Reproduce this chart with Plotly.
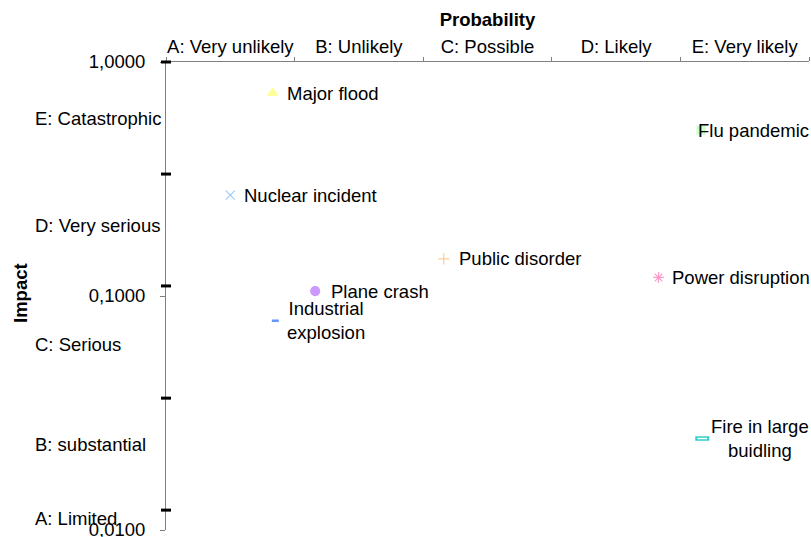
import math
import plotly.graph_objects as go

# ---- data ----
risks = ["Major flood", "Flu pandemic", "Nuclear incident", "Public disorder",
         "Power disruption", "Plane crash", "Industrial explosion", "Fire in large buidling"]
risk_labels = ["Major flood", "Flu pandemic", "Nuclear incident", "Public disorder",
               "Power disruption", "Plane crash", "Industrial<br>explosion", "Fire in large<br>buidling"]
probability = [0.83, 4.16, 0.50, 2.16, 3.83, 1.16, 0.85, 4.17]
impact = [0.737, 0.512, 0.270, 0.144, 0.120, 0.105, 0.0784, 0.0246]

prob_categories = ["A: Very unlikely", "B: Unlikely", "C: Possible", "D: Likely", "E: Very likely"]
prob_centers = [0.5, 1.5, 2.5, 3.5, 4.5]
prob_bounds = [0, 1, 2, 3, 4, 5]

impact_categories = ["E: Catastrophic", "D: Very serious", "C: Serious", "B: substantial", "A: Limited"]
impact_label_pos = [0.576, 0.201, 0.0618, 0.0233, 0.01125]
impact_bounds = [1.0, 0.332, 0.1104, 0.0366, 0.01216]

y_tickvals = [0.01, 0.1, 1.0]
y_range_log = [-2, 0]

# ---- styles ----
FONT = "Liberation Sans, Arial, sans-serif"
FS = 18.5
styles = {
    "Major flood": dict(symbol="triangle-up", color="#ffff99", size=9),
    "Flu pandemic": dict(symbol="square", color="#ccffcc", size=8),
    "Nuclear incident": dict(symbol="x-thin-open", color="#99ccff", size=9),
    "Public disorder": dict(symbol="cross-thin-open", color="#ffcc99", size=8),
    "Power disruption": dict(symbol="asterisk-open", color="#ff99cc", size=9),
    "Plane crash": dict(symbol="circle", color="#cc99ff", size=9),
    "Industrial explosion": dict(symbol="line-ew-open", color="#6699ff", size=5),
    "Fire in large buidling": dict(symbol="line-ew-open", color="#33cccc", size=10),
}
label_shift = {"Major flood": 12, "Flu pandemic": -5, "Nuclear incident": 12, "Public disorder": 13,
               "Power disruption": 11, "Plane crash": 14, "Industrial explosion": 10,
               "Fire in large buidling": 7}

fig = go.Figure()
for name, px_, im in zip(risks, probability, impact):
    st = styles[name]
    lw = 1.2
    if name == "Industrial explosion":
        lw = 2.5
    if name == "Fire in large buidling":
        lw = 4.5
    fig.add_trace(go.Scatter(
        x=[px_], y=[im], mode="markers", name=name, showlegend=False,
        marker=dict(symbol=st["symbol"], size=st["size"], color=st["color"],
                    line=dict(color=st["color"], width=lw)),
        cliponaxis=False, xaxis="x", yaxis="y"))
    if name == "Fire in large buidling":
        fig.add_trace(go.Scatter(
            x=[px_], y=[im], mode="markers", showlegend=False,
            marker=dict(symbol="line-ew-open", size=7, color="white",
                        line=dict(color="white", width=1.5)),
            cliponaxis=False, xaxis="x", yaxis="y"))

annotations = []
for name, lab, px_, im in zip(risks, risk_labels, probability, impact):
    annotations.append(dict(
        x=px_, y=math.log10(im), xref="x", yref="y", text=lab, showarrow=False,
        xanchor="left", yanchor="middle", xshift=label_shift[name], align="center",
        font=dict(family=FONT, size=FS, color="black")))

plot_w = 811 - 166 - 2
for lab, pos in zip(impact_categories, impact_label_pos):
    annotations.append(dict(
        x=(33 - 166) / plot_w, y=math.log10(pos), xref="paper", yref="y", text=lab,
        showarrow=False, xanchor="left", yanchor="middle", align="left",
        font=dict(family=FONT, size=FS, color="black")))

annotations.append(dict(
    x=(20 - 166) / plot_w, y=(537 - 7 - 293) / 468, xref="paper", yref="paper",
    text="<b>Impact</b>", textangle=-90, showarrow=False, xanchor="center", yanchor="middle",
    font=dict(family=FONT, size=FS, color="black")))


def yfrac(v):
    return (math.log10(v) - y_range_log[0]) / (y_range_log[1] - y_range_log[0])


shapes = []
for b in impact_bounds:
    shapes.append(dict(type="line", xref="paper", yref="paper",
                       x0=-5 / plot_w, x1=5 / plot_w, y0=yfrac(b), y1=yfrac(b),
                       line=dict(color="black", width=3), layer="above"))

fig.update_layout(
    width=811, height=537,
    margin=dict(l=166, r=2, t=62, b=7, autoexpand=False),
    paper_bgcolor="white", plot_bgcolor="white",
    separators=",.",
    font=dict(family=FONT, size=FS, color="black"),
    xaxis=dict(range=[0, 5], side="top", tickvals=prob_bounds, ticktext=[""] * len(prob_bounds),
               ticks="outside", ticklen=4, tickcolor="#808080", showline=True, automargin=False,
               linecolor="#808080", linewidth=1, showgrid=False, zeroline=False),
    xaxis2=dict(range=[0, 5], overlaying="x", side="top", tickvals=prob_centers,
                ticktext=prob_categories, ticks="", showline=False, showgrid=False,
                zeroline=False, ticklabelstandoff=4, automargin=False,
                title=dict(text="<b>Probability</b>", standoff=4,
                           font=dict(family=FONT, size=FS, color="black")),
                tickfont=dict(family=FONT, size=FS, color="black")),
    yaxis=dict(type="log", range=y_range_log, tickvals=y_tickvals, tickformat=".4f",
               ticks="outside", ticklen=5, tickcolor="#808080", showline=True,
               linecolor="#808080", linewidth=1, showgrid=False, zeroline=False,
               ticklabeloverflow="allow", automargin=False,
               ticklabelstandoff=11, tickfont=dict(family=FONT, size=FS, color="black")),
    annotations=annotations,
    shapes=shapes,
)
# dummy trace to activate xaxis2
fig.add_trace(go.Scatter(x=[None], y=[None], xaxis="x2", yaxis="y", showlegend=False))

fig.write_html("out.html", post_script="document.body.style.margin='0';",
               config={"displayModeBar": False})
